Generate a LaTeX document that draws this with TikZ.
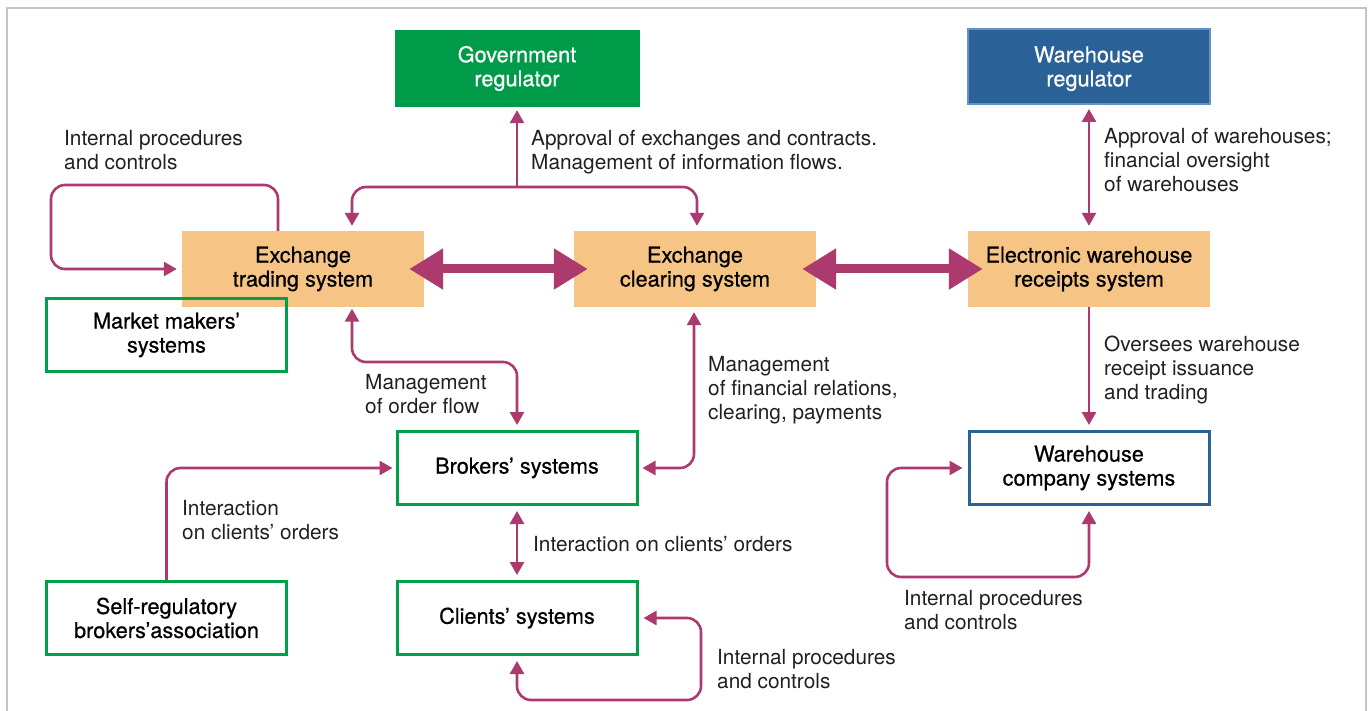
\documentclass[tikz,border=0pt]{standalone}
\usepackage{fontspec}
\setmainfont{TeX Gyre Heros}
\newfontfamily\boxfam{TeX Gyre Heros}[FakeBold=0.6]
\usetikzlibrary{arrows.meta,calc}
\definecolor{mag}{HTML}{AD3A6E}
\definecolor{greenfill}{HTML}{009B48}
\definecolor{greenline}{HTML}{00A04B}
\definecolor{bluefill}{HTML}{2A6297}
\definecolor{blueedge}{HTML}{6591C5}
\definecolor{blueline}{HTML}{2B6298}
\definecolor{orangefill}{HTML}{F6C585}
\definecolor{framec}{HTML}{C4C4C4}
\definecolor{txtc}{HTML}{231F20}
\newcommand\myboxfont{\boxfam\fontsize{21.7}{24}\selectfont}
\newcommand\mylblfont{\fontsize{20.8}{24}\selectfont}
\begin{document}
\begin{tikzpicture}[x=1pt,y=-1pt,
  basebox/.style={inner sep=0pt, align=center, font=\myboxfont},
  regg/.style={basebox, fill=greenfill, text=white, minimum width=245pt, minimum height=77pt},
  regb/.style={basebox, fill=bluefill, draw=blueedge, line width=2pt, text=white, minimum width=242pt, minimum height=75pt},
  orb/.style={basebox, fill=orangefill, text=black, minimum width=242pt, minimum height=76pt},
  grb/.style={basebox, draw=greenline, line width=3pt, text=black, minimum width=240pt, minimum height=73pt},
  blb/.style={basebox, draw=blueline, line width=3pt, text=black, minimum width=240pt, minimum height=73pt},
  lbl/.style={anchor=base west, align=left, inner sep=0pt, font=\mylblfont, text=txtc},
  arr1/.style={draw=mag, line width=2.6pt, rounded corners=14pt, -{Triangle[width=14pt,length=13pt]}},
  arr2/.style={draw=mag, line width=2.6pt, rounded corners=14pt, {Triangle[width=14pt,length=13pt]}-{Triangle[width=14pt,length=13pt]}},
  big/.style={draw=mag, line width=9pt, {Triangle[width=39pt,length=34pt]}-{Triangle[width=39pt,length=34pt]}}
]
\useasboundingbox (0,0) rectangle (1370,711);
\draw[framec, line width=1.5pt] (7,711) -- (7,8) -- (1366,8) -- (1366,711);

% boxes
\node[regg] (gov) at (517,68.5) {Government\\regulator};
\node[regb] (wreg) at (1089,66.5) {\raisebox{-3pt}[\height][\depth]{\begin{tabular}{@{}c@{}}Warehouse\\regulator\end{tabular}}};
\node[orb] (ets) at (303,269) {Exchange\\trading system};
\node[orb] (ecs) at (695,269) {Exchange\\clearing system};
\node[orb] (ewr) at (1089,269) {Electronic warehouse\\receipts system};
\node[grb] (mm) at (166.5,335) {Market makers’\\systems};
\node[grb] (bro) at (517,468) {Brokers’ systems};
\node[grb] (cli) at (517,618) {Clients’ systems};
\node[grb] (sr) at (166.5,618) {Self-regulatory\\brokers’association};
\node[blb] (wc) at (1089,468) {Warehouse\\company systems};

% big double arrows
\draw[big, shorten <=-15pt, shorten >=-14pt] (ets.east) -- (ecs.west);
\draw[big, shorten <=-14pt, shorten >=-15pt] (ecs.east) -- (ewr.west);

% internal loop of trading system
\draw[arr1, shorten >=5pt] ($(ets.north)+(-25,0)$) |- (51,185) |- (ets.west);
\node[lbl] (l1) at (64,170) {Internal procedures\\and controls};

% government regulator
\coordinate (gj) at (517,187);
\draw[arr1, shorten >=3pt] (gj) -- (gov.south);
\draw[arr1, shorten >=5pt] (gj) -| ($(ets.north)+(49,0)$);
\draw[arr1, shorten >=5pt] (gj) -| ($(ecs.north)+(2,0)$);
\node[lbl] (l2) at (531,170) {Approval of exchanges and contracts.\\Management of information flows.};

% warehouse regulator
\draw[arr2, shorten <=4pt, shorten >=5pt] (wreg.south) -- (ewr.north);
\node[lbl] (l3) at (1104,192) {Approval of warehouses;\\financial oversight\\of warehouses};

% trading - brokers
\draw[arr2, shorten <=1.5pt, shorten >=5pt] ($(ets.south)+(49,0)$) |- ($(bro.north)+(0,-68)$) -- (bro.north);
\node[lbl] (l4) at (365,413) {Management\\of order flow};

% clearing - brokers
\draw[arr2, shorten <=5pt, shorten >=4pt] ($(ecs.south)+(-1,0)$) |- (bro.east);
\node[lbl] (l5) at (708,419) {Management\\of financial relations,\\clearing, payments};

% ewr - warehouse company
\draw[arr1, shorten >=5pt] (ewr.south) -- (wc.north);
\node[lbl] (l6) at (1104,399) {Oversees warehouse\\receipt issuance\\and trading};

% warehouse company loop
\draw[arr2, shorten <=5pt, shorten >=5pt] (wc.south) |- (887,577) |- (wc.west);
\node[lbl] (l7) at (904,629) {Internal procedures\\and controls};

% self-regulatory - brokers
\draw[arr1, shorten >=3pt] (sr.north) |- (bro.west);
\node[lbl] (l8) at (182,539) {Interaction\\on clients’ orders};

% brokers - clients
\draw[arr2, shorten <=5pt, shorten >=5pt] (bro.south) -- (cli.north);
\node[lbl] (l9) at (533,551) {Interaction on clients’ orders};

% clients loop
\draw[arr2, shorten <=5pt, shorten >=5pt] (cli.south) |- (701,700) |- (cli.east);
\node[lbl] (l10) at (717,688) {Internal procedures\\and controls};
\end{tikzpicture}
\end{document}
